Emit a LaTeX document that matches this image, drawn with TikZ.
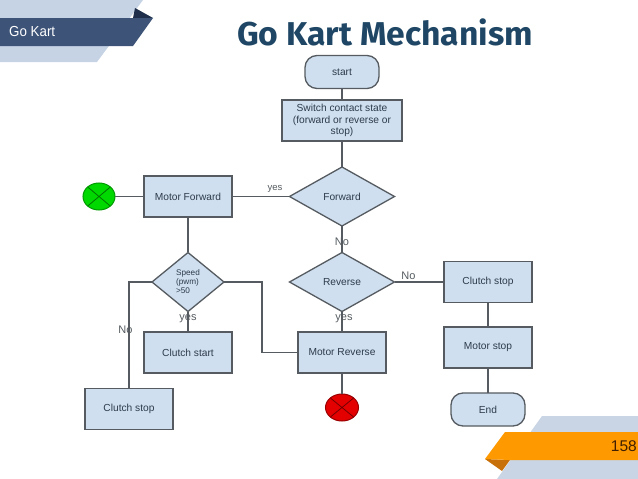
\documentclass[tikz,border=0pt]{standalone}
\usepackage{fontspec}
\setmainfont{Liberation Sans}
\newfontfamily\titlefont{Fira Sans}
\usetikzlibrary{shapes.geometric,shapes.misc}
\definecolor{boxfill}{HTML}{CFDFF0}
\definecolor{boxline}{HTML}{555B60}
\definecolor{boxtext}{HTML}{2E3B4A}
\definecolor{bannerlight}{HTML}{C6D3E5}
\definecolor{bannerdark}{HTML}{3D5378}
\definecolor{bannerdeep}{HTML}{1F2F4B}
\definecolor{titleblue}{HTML}{1F4765}
\definecolor{orangeband}{HTML}{FF9900}
\definecolor{orangedeep}{HTML}{C8700A}
\definecolor{cornerlight}{HTML}{C9D5E4}
\tikzset{
  x=1pt,y=-1pt,
  lab/.style={font=\fontsize{10.2}{11.6}\selectfont,text=boxtext,align=center},
  base/.style={draw=boxline,line width=1.3pt,fill=boxfill,inner sep=0pt,outer sep=0pt,lab},
  procbox/.style={base,rectangle,minimum width=88pt,minimum height=41pt},
  termbox/.style={base,rectangle,rounded corners=12pt,minimum width=74pt,minimum height=33pt},
  decbox/.style={base,diamond,minimum width=105pt,minimum height=59pt},
  lampbase/.style={draw=#1!60!black,line width=1pt,ellipse,inner sep=0pt,outer sep=0pt,minimum width=32pt,minimum height=27pt,
    path picture={\draw[#1!45!black,line width=.8pt]
      (path picture bounding box.north west)--(path picture bounding box.south east)
      (path picture bounding box.north east)--(path picture bounding box.south west);}},
  link/.style={draw=boxline,line width=1.6pt},
  tag/.style={font=\fontsize{11}{12}\selectfont,text=boxline,inner sep=0pt},
}
\begin{document}
\begin{tikzpicture}
\useasboundingbox (0,0) rectangle (638,479);
% header banner
\fill[bannerlight] (0,0)--(143,0)--(97,62)--(0,62)--cycle;
\fill[bannerdeep] (133,18)--(135,8)--(153,18)--cycle;
\fill[bannerdark] (0,18)--(153,18)--(133,46)--(0,46)--cycle;
\node[anchor=west,text=white,inner sep=0pt,font=\fontsize{14.5}{16}\selectfont] (hdr) at (9,31.5) {\scalebox{.92}[1]{Go Kart}};
\node[text=titleblue,inner sep=0pt,font=\titlefont\bfseries\fontsize{33}{36}\selectfont] (title) at (385,32) {\scalebox{1.02}[1]{Go Kart Mechanism}};
% footer banner
\fill[cornerlight] (542,416)--(638,416)--(638,479)--(497,479)--cycle;
\fill[orangedeep] (485,459)--(510,460)--(502,471)--cycle;
\fill[orangeband] (505,432)--(638,432)--(638,460)--(510,460)--(485,459)--cycle;
\node[anchor=east,text=black!75!orange,inner sep=0pt,font=\fontsize{15.5}{18}\selectfont] (pageno) at (637,446) {158};
% nodes
\node[termbox] (start) at (342,72) {start};
\node[procbox,minimum width=120pt] (switch) at (342,120.5) {Switch contact state\\(forward or reverse or\\stop)};
\node[decbox] (forward) at (342,196.5) {Forward};
\node[decbox] (reverse) at (342,282) {Reverse};
\node[procbox] (mreverse) at (342,352.5) {Motor Reverse};
\node[procbox] (cstopr) at (488,282) {Clutch stop};
\node[procbox] (mstop) at (488,347.5) {Motor stop};
\node[termbox] (finish) at (488,409.5) {End};
\node[lampbase=red,fill=red!90!black,minimum width=33pt] (redlamp) at (342,407.5) {};
\node[lampbase=green,fill=green!85!black] (greenlamp) at (99,196.5) {};
\node[procbox] (mforward) at (188,196.5) {Motor Forward};
\node[decbox,minimum width=72pt,font=\fontsize{8.2}{9}\selectfont,align=left] (speed) at (188,282) {Speed\\(pwm)\\>50};
\node[procbox] (cstart) at (188,352.5) {Clutch start};
\node[procbox] (cstopl) at (129,409) {Clutch stop};
% connectors
\draw[link] (start)--(switch);
\draw[link] (switch)--(forward);
\draw[link] (forward)--(reverse);
\draw[link] (reverse)--(mreverse);
\draw[link] (mreverse)--(redlamp);
\draw[link] (reverse)--(cstopr);
\draw[link] (cstopr)--(mstop);
\draw[link] (mstop)--(finish);
\draw[link] (forward)--(mforward);
\draw[link] (mforward)--(greenlamp);
\draw[link] (mforward)--(speed);
\draw[link] (speed)--(cstart);
\draw[link] (speed.west)-|(cstopl.north);
\draw[link] (speed.east)-|(262,352.5)--(mreverse.west);
% labels
\node[tag,font=\fontsize{9.5}{10}\selectfont] (l1) at (275,189) {yes};
\node[tag] (l2) at (342,242) {No};
\node[tag] (l3) at (408.5,275.5) {No};
\node[tag] (l4) at (344,319) {yes};
\node[tag] (l5) at (188,319) {yes};
\node[tag] (l6) at (125.5,330) {No};
\end{tikzpicture}
\end{document}
